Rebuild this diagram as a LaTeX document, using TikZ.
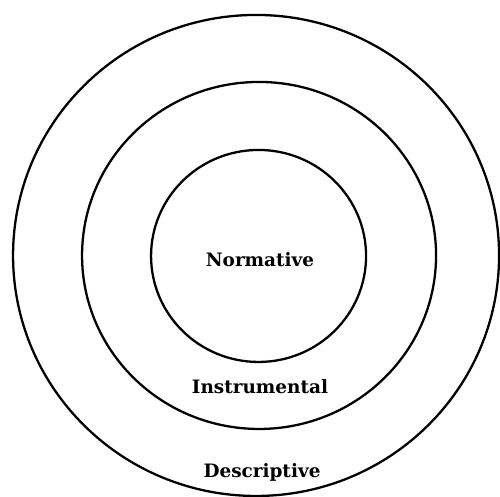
\documentclass[tikz,border=0pt]{standalone}
\usepackage{fontspec}
\newfontfamily\slabfont{DejaVu Serif}
\tikzset{ring/.style={black,line width=1.3pt}, every node/.style={black, font=\slabfont\bfseries\fontsize{10.5}{12}\selectfont, inner sep=1pt}}

\begin{document}
\begin{tikzpicture}[scale=0.02]
   \useasboundingbox (0,0) rectangle (500,496);
   \clip (0,0) rectangle (500,496);
   \coordinate (outer)  at (256.0,240.5);
   \coordinate (middle) at (259.0,240.5);
   \coordinate (inner)  at (258.5,240.0);
   \draw[ring] (outer)  ellipse [x radius=243.0, y radius=240.5];
   \draw[ring] (middle) ellipse [x radius=177.0, y radius=173.5];
   \draw[ring] (inner)  ellipse [x radius=107.5, y radius=106.0];
   \node (norm)  at (260,236) {Normative};
   \node (instr) at (260,109) {Instrumental};
   \node (descr) at (262, 24) {Descriptive};
\end{tikzpicture}
\end{document}
